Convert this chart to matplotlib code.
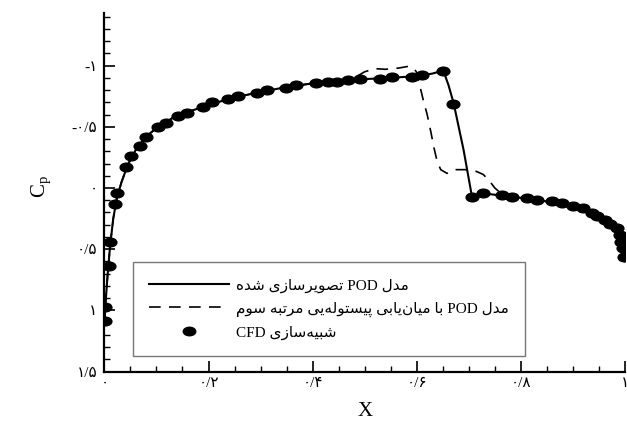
import re
import matplotlib
matplotlib.use("Agg")
import matplotlib.pyplot as plt
import matplotlib.transforms as mtrans
from matplotlib.path import Path
from matplotlib.lines import Line2D
from matplotlib.ticker import MultipleLocator

# ---------------- data ----------------
cfd_x = [0.001, 0.001, 0.009, 0.011, 0.021, 0.025, 0.042, 0.052, 0.068, 0.079,
         0.102, 0.118, 0.141, 0.158, 0.189, 0.206, 0.238, 0.257, 0.293, 0.312,
         0.349, 0.368, 0.407, 0.430, 0.446, 0.468, 0.491, 0.529, 0.552, 0.590,
         0.611, 0.651, 0.670, 0.707, 0.727, 0.764, 0.783, 0.812, 0.831, 0.860,
         0.879, 0.901, 0.920, 0.936, 0.946, 0.962, 0.971, 0.984, 0.990, 0.992,
         0.997, 0.999]
cfd_cp = [1.09, 0.97, 0.64, 0.44, 0.13, 0.04, -0.17, -0.26, -0.34, -0.42,
          -0.50, -0.53, -0.59, -0.61, -0.66, -0.70, -0.73, -0.75, -0.78, -0.80,
          -0.82, -0.84, -0.86, -0.87, -0.87, -0.88, -0.89, -0.89, -0.905, -0.905,
          -0.925, -0.96, -0.69, 0.07, 0.04, 0.055, 0.07, 0.08, 0.095, 0.11,
          0.12, 0.15, 0.16, 0.205, 0.23, 0.26, 0.29, 0.33, 0.38, 0.44,
          0.49, 0.56]

pod_x = [0.0, 0.002, 0.006, 0.011, 0.017, 0.024, 0.033, 0.045, 0.06, 0.08,
         0.10, 0.13, 0.16, 0.20, 0.25, 0.30, 0.35, 0.40, 0.45, 0.50,
         0.55, 0.60, 0.63, 0.651, 0.661, 0.671, 0.69, 0.706, 0.73, 0.77,
         0.81, 0.85, 0.89, 0.93, 0.96, 0.98, 0.99, 0.997, 1.0]
pod_cp = [1.12, 0.95, 0.72, 0.47, 0.25, 0.08, -0.05, -0.19, -0.31, -0.42,
          -0.49, -0.57, -0.62, -0.68, -0.74, -0.785, -0.825, -0.855, -0.875, -0.89,
          -0.90, -0.915, -0.935, -0.96, -0.84, -0.69, -0.31, 0.07, 0.045, 0.065,
          0.085, 0.11, 0.14, 0.20, 0.26, 0.32, 0.39, 0.48, 0.60]

spl_x = [0.0, 0.002, 0.006, 0.011, 0.017, 0.024, 0.033, 0.045, 0.06, 0.08,
         0.10, 0.13, 0.16, 0.20, 0.25, 0.30, 0.35, 0.40, 0.45, 0.48,
         0.50, 0.52, 0.54, 0.565, 0.585, 0.594, 0.599, 0.605, 0.613, 0.62,
         0.627, 0.633, 0.639, 0.646, 0.658, 0.673, 0.693, 0.715, 0.728, 0.741,
         0.750, 0.765, 0.81, 0.85, 0.89, 0.93, 0.96, 0.98, 0.99, 0.997, 1.0]
spl_cp = [1.12, 0.95, 0.72, 0.47, 0.25, 0.08, -0.05, -0.19, -0.31, -0.42,
          -0.49, -0.57, -0.62, -0.68, -0.74, -0.785, -0.825, -0.855, -0.875, -0.90,
          -0.95, -0.975, -0.97, -0.98, -0.995, -0.98, -0.95, -0.85, -0.71, -0.60,
          -0.46, -0.33, -0.22, -0.15, -0.12, -0.15, -0.15, -0.135, -0.11, -0.05,
          0.0, 0.055, 0.085, 0.11, 0.14, 0.20, 0.26, 0.32, 0.39, 0.48, 0.60]

x_ticks = [0.0, 0.2, 0.4, 0.6, 0.8, 1.0]
x_tick_labels = ['۰', '۰/۲', '۰/۴', '۰/۶', '۰/۸', '۱']
y_ticks = [-1.0, -0.5, 0.0, 0.5, 1.0, 1.5]
y_tick_labels = ['-۱', '-۰/۵', '۰', '۰/۵', '۱', '۱/۵']

label_pod = 'مدل POD تصویرسازی شده'
label_spline = 'مدل POD با میان\u200cیابی پیستوله\u200cیی مرتبه سوم'
label_cfd = 'شبیه\u200cسازی CFD'

# ---------------- simple Persian shaping for matplotlib ----------------
FORMS = {
    'ا': ('\uFE8D', '\uFE8E', None, None),
    'ب': ('\uFE8F', '\uFE90', '\uFE91', '\uFE92'),
    'ت': ('\uFE95', '\uFE96', '\uFE97', '\uFE98'),
    'د': ('\uFEA9', '\uFEAA', None, None),
    'ر': ('\uFEAD', '\uFEAE', None, None),
    'ز': ('\uFEAF', '\uFEB0', None, None),
    'س': ('\uFEB1', '\uFEB2', '\uFEB3', '\uFEB4'),
    'ش': ('\uFEB5', '\uFEB6', '\uFEB7', '\uFEB8'),
    'ص': ('\uFEB9', '\uFEBA', '\uFEBB', '\uFEBC'),
    'ل': ('\uFEDD', '\uFEDE', '\uFEDF', '\uFEE0'),
    'م': ('\uFEE1', '\uFEE2', '\uFEE3', '\uFEE4'),
    'ن': ('\uFEE5', '\uFEE6', '\uFEE7', '\uFEE8'),
    'ه': ('\uFEE9', '\uFEEA', '\uFEEB', '\uFEEC'),
    'و': ('\uFEED', '\uFEEE', None, None),
    'پ': ('\uFB56', '\uFB57', '\uFB58', '\uFB59'),
    'ی': ('\uFBFC', '\uFBFD', '\uFBFE', '\uFBFF'),
}


def shape(text):
    out = []
    for i, c in enumerate(text):
        if c not in FORMS:
            out.append(c)
            continue
        prev = text[i - 1] if i > 0 else None
        nxt = text[i + 1] if i + 1 < len(text) else None
        jp = prev in FORMS and FORMS[prev][2] is not None
        jn = FORMS[c][2] is not None and nxt in FORMS
        iso, fin, ini, med = FORMS[c]
        out.append(med if (jp and jn) else fin if jp else ini if jn else iso)
    s = ''.join(ch for ch in out if ch != '\u200c')[::-1]
    return re.sub(r'[A-Za-z0-9]+', lambda m: m.group(0)[::-1], s)


# ---------------- figure ----------------
FAM = ['Liberation Serif', 'DejaVu Sans']
plt.rcParams['font.family'] = FAM
plt.rcParams['mathtext.fontset'] = 'custom'
plt.rcParams['mathtext.rm'] = 'Liberation Serif'

fig = plt.figure(figsize=(6.27, 4.21), dpi=100)
ax = fig.add_axes([104.4 / 627, (421 - 371.6) / 421, 520.6 / 627, 358.6 / 421])

ell = Path.unit_circle().transformed(mtrans.Affine2D().scale(1.0, 0.68))

ax.plot(pod_x, pod_cp, color='black', lw=1.5, solid_joinstyle='round', zorder=3)
ax.plot(spl_x, spl_cp, color='black', lw=1.2, dashes=(7, 5), zorder=3)
ax.plot(cfd_x, cfd_cp, linestyle='none', marker=ell, markersize=9.2,
        color='black', zorder=4, clip_on=True)

ax.set_xlim(0, 1.0)
ax.set_ylim(1.5, -1.43)

for s in ('top', 'right'):
    ax.spines[s].set_visible(False)
for s in ('left', 'bottom'):
    ax.spines[s].set_linewidth(1.6)

ax.set_xticks(x_ticks)
ax.set_xticklabels(x_tick_labels)
ax.set_yticks(y_ticks)
ax.set_yticklabels(y_tick_labels)
ax.xaxis.set_minor_locator(MultipleLocator(0.05))
ax.yaxis.set_minor_locator(MultipleLocator(0.1))
ax.tick_params(which='major', direction='in', length=8, width=1.2, labelsize=11)
ax.tick_params(which='minor', direction='in', length=4.5, width=1.0)
ax.tick_params(axis='y', which='major', pad=5)
ax.tick_params(axis='x', which='major', pad=4)

ax.set_xlabel('X', fontsize=15)
ax.xaxis.set_label_coords(0.5, -0.085)
ax.set_ylabel(r'C$_\mathregular{p}$', fontsize=15, rotation=90)
ax.yaxis.set_label_coords(-0.097, 0.515)

handles = [
    Line2D([], [], color='black', lw=1.5),
    Line2D([], [], color='black', lw=1.2, dashes=(7, 5)),
    Line2D([], [], linestyle='none', marker=ell, markersize=9, color='black'),
]
labels = [shape(label_pod), shape(label_spline), shape(label_cfd)]
leg = ax.legend(handles, labels, loc='upper left',
                bbox_to_anchor=((133 - 104.4) / 520.6, (371.6 - 262) / 358.6),
                borderaxespad=0, frameon=True, fancybox=False,
                prop={'family': FAM, 'size': 11},
                handlelength=5.2, handletextpad=0.45, labelspacing=0.57,
                borderpad=1.07)
leg.get_frame().set_edgecolor('#555555')
leg.get_frame().set_linewidth(1.0)

fig.savefig('out.png', dpi=100)
